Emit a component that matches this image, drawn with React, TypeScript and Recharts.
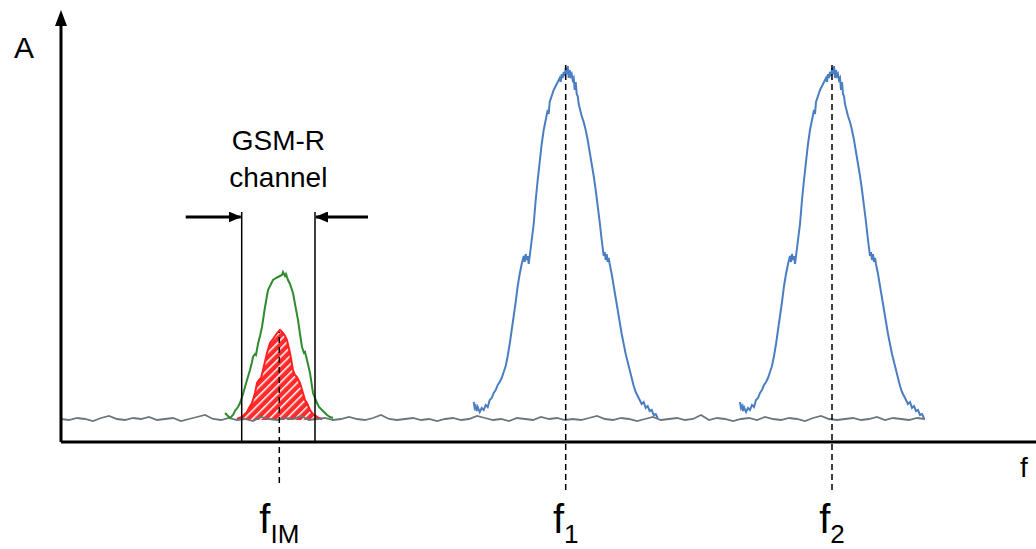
import { ComposedChart, Line, Area, XAxis, YAxis, ReferenceLine, ReferenceArea } from 'recharts'

// spectrum sketch: noise floor, two carriers f1/f2 and the IM product inside the GSM-R channel
const FONT = 'Liberation Sans, Arial, sans-serif'

const NOISE_STEP = 8
const NOISE_FLOOR = [
  23, 22, 24, 23, 21, 24, 26, 23, 22, 24,
  23, 25, 22, 23, 24, 21, 23, 25, 27, 23,
  22, 24, 22, 23, 21, 25, 23, 22, 24, 23,
  26, 22, 23, 24, 22, 23, 25, 23, 22, 24,
  27, 23, 22, 23, 24, 22, 23, 21, 23, 24,
  22, 23, 26, 24, 22, 23, 21, 24, 23, 22,
  25, 23, 24, 22, 23, 22, 24, 26, 23, 22,
  24, 23, 21, 23, 25, 22, 23, 24, 22, 23,
  27, 22, 24, 23, 21, 23, 24, 22, 25, 23,
  22, 24, 23, 21, 24, 26, 23, 22, 23, 24,
  22, 23, 25, 22, 24, 23, 22, 24, 23,
]

// carrier shape, [offset from centre, amplitude]
const CARRIER_PROFILE: [number, number][] = [
  [-92, 40], [-91, 34], [-90, 36], [-89, 31], [-88, 35], [-86, 30], [-84, 34], [-82, 32], [-80, 37], [-78, 35],
  [-76, 42], [-74, 44], [-72, 49], [-70, 52], [-68, 57], [-66, 60], [-64, 64], [-62, 70], [-60, 76], [-58, 86],
  [-56, 98], [-54, 112], [-52, 126], [-50, 140], [-48, 156], [-46, 168], [-44, 178], [-42, 186], [-41, 180], [-40, 188],
  [-39, 182], [-38, 186], [-37, 178], [-36, 186], [-34, 202], [-32, 218], [-30, 242], [-28, 262], [-26, 280], [-24, 298],
  [-22, 312], [-20, 322], [-18, 332], [-17, 328], [-16, 340], [-14, 346], [-12, 352], [-10, 356], [-8, 360], [-6, 364],
  [-5, 360], [-4, 368], [-3, 364], [-2, 370], [-1, 366], [0, 374], [1, 368], [2, 376], [3, 364], [4, 372],
  [5, 366], [6, 368], [7, 362], [8, 364], [9, 352], [10, 360], [11, 348], [12, 346], [13, 338], [14, 334],
  [16, 326], [18, 320], [20, 312], [22, 302], [24, 290], [26, 278], [28, 266], [30, 252], [32, 236], [34, 220],
  [36, 202], [37, 194], [38, 186], [39, 190], [40, 182], [41, 188], [42, 180], [43, 184], [44, 178], [46, 168],
  [48, 156], [50, 144], [52, 132], [54, 120], [56, 108], [58, 98], [60, 88], [62, 80], [64, 72], [66, 64],
  [68, 56], [70, 50], [72, 46], [74, 42], [76, 38], [78, 40], [80, 34], [82, 36], [84, 31], [86, 32],
  [88, 27], [90, 28], [92, 24],
]

const FREQ_TICKS = [218.3, 504.7, 771]
const FREQ_SUBS = ['IM', '1', '2']
const CARRIER_CENTERS = [504.7, 771]

const IM_TOTAL: [number, number][] = [
  [164, 29], [167, 26], [169, 24], [172, 27], [174, 31], [177, 35], [179, 39], [182, 48], [184, 55], [186, 62],
  [189, 72], [191, 80], [192, 85], [194, 88], [195, 87], [197, 98], [199, 106], [201, 115], [204, 135], [207, 152],
  [210, 158], [212, 162], [215, 164], [217, 165], [219, 166], [221, 167], [222, 170], [224, 166], [225, 168], [227, 162],
  [229, 158], [232, 149], [234, 138], [237, 122], [239, 108], [241, 95], [243, 89], [244, 90], [246, 82], [249, 69],
  [252, 49], [256, 39], [258, 35], [261, 32], [263, 30], [266, 27], [269, 25], [272, 24],
]

const IM_IN_CHANNEL: [number, number][] = [
  [176, 23], [178, 24], [181, 25], [183, 27], [186, 30], [188, 34], [191, 39], [194, 49], [196, 59], [198, 62],
  [200, 64], [202, 72], [206, 89], [209, 99], [212, 103], [214, 106], [217, 110], [219, 112], [221, 110], [222, 109],
  [224, 106], [226, 102], [229, 89], [232, 72], [234, 67], [236, 65], [239, 59], [242, 49], [244, 42], [246, 39],
  [249, 32], [252, 28], [255, 26], [258, 24], [261, 23],
]

const CHANNEL_EDGES = [180.7, 254]
const CHANNEL_TOP = 230
const ARROW_LEVEL = 225
const ARROW_LEN = 56

const noiseData = NOISE_FLOOR.map((a, i) => ({ f: i * NOISE_STEP, a }))
const carrierData = CARRIER_CENTERS.map((c) => CARRIER_PROFILE.map(([o, a]) => ({ f: c + o, a })))
const totalData = IM_TOTAL.map(([f, a]) => ({ f, a }))
const channelData = IM_IN_CHANNEL.map(([f, a]) => ({ f, a }))

function FreqTick(props: any) {
  const { x, y, payload } = props
  const idx = FREQ_TICKS.indexOf(payload.value)
  return (
    <text x={x} y={y + 91} textAnchor="middle" fontFamily={FONT} fontSize={40} fill="#000">
      f<tspan fontSize={26} dy={10}>{FREQ_SUBS[idx]}</tspan>
    </text>
  )
}

function arrowShape(props: any) {
  const { x1, y1, x2, y2 } = props
  return <line x1={x1} y1={y1} x2={x2} y2={y2} stroke="#000" strokeWidth={3} markerEnd="url(#headSmall)" />
}

export default function App() {
  return (
    <div style={{ position: 'absolute', left: 0, top: 0, width: 1036, height: 549, background: '#fff' }}>
      <svg width={0} height={0} style={{ position: 'absolute' }}>
        <defs>
          <marker id="headAxis" markerUnits="userSpaceOnUse" markerWidth={16} markerHeight={12} refX={2} refY={6} orient="auto-start-reverse">
            <path d="M0,0 L16,6 L0,12 z" fill="#000" />
          </marker>
          <marker id="headSmall" markerUnits="userSpaceOnUse" markerWidth={13} markerHeight={11} refX={12} refY={5.5} orient="auto">
            <path d="M0,0 L13,5.5 L0,11 z" fill="#000" />
          </marker>
          <pattern id="hatch" patternUnits="userSpaceOnUse" width={6} height={6} patternTransform="rotate(45)">
            <rect width={6} height={6} fill="#ff2a2a" />
            <line x1={0} y1={0} x2={0} y2={6} stroke="#fff" strokeWidth={3} />
          </pattern>
        </defs>
      </svg>
      <ComposedChart width={1036} height={549} margin={{ top: 24, right: 0, bottom: 77, left: 1 }}>
        <XAxis
          type="number"
          dataKey="f"
          domain={[0, 975]}
          ticks={FREQ_TICKS}
          tick={<FreqTick />}
          tickLine={false}
          tickSize={0}
          tickMargin={0}
          interval={0}
          height={30}
          axisLine={{ stroke: '#000', strokeWidth: 3 }}
          allowDataOverflow
          label={{
            content: (p: any) => (
              <text x={p.viewBox.x + p.viewBox.width - 12} y={p.viewBox.y + 35} textAnchor="middle" fontFamily={FONT} fontSize={28} fill="#000">
                f
              </text>
            ),
          }}
        />
        <YAxis
          type="number"
          dataKey="a"
          domain={[0, 418]}
          width={60}
          tick={false}
          tickLine={false}
          axisLine={{ stroke: '#000', strokeWidth: 3, markerStart: 'url(#headAxis)' }}
          allowDataOverflow
          label={{
            content: (p: any) => (
              <text x={p.viewBox.x + 23} y={p.viewBox.y + 34} textAnchor="middle" fontFamily={FONT} fontSize={30} fill="#000">
                A
              </text>
            ),
          }}
        />

        <Line data={noiseData} dataKey="a" type="linear" stroke="#6a767e" strokeWidth={1.8} dot={false} isAnimationActive={false} />
        {carrierData.map((d, i) => (
          <Line key={i} data={d} dataKey="a" type="linear" stroke="#4a7ec2" strokeWidth={2} dot={false} isAnimationActive={false} />
        ))}
        <Line data={totalData} dataKey="a" type="linear" stroke="#2e8b2e" strokeWidth={2} dot={false} isAnimationActive={false} />
        <Area data={channelData} dataKey="a" type="linear" baseValue={22} stroke="#ff2020" strokeWidth={2} fill="url(#hatch)" fillOpacity={1} isAnimationActive={false} />

        {CHANNEL_EDGES.map((x) => (
          <ReferenceLine key={x} segment={[{ x, y: 0 }, { x, y: CHANNEL_TOP }]} stroke="#000" strokeWidth={1.5} />
        ))}
        <ReferenceLine
          segment={[{ x: CHANNEL_EDGES[0] - ARROW_LEN, y: ARROW_LEVEL }, { x: CHANNEL_EDGES[0] - 1, y: ARROW_LEVEL }]}
          shape={arrowShape}
        />
        <ReferenceLine
          segment={[{ x: CHANNEL_EDGES[1] + ARROW_LEN - 3, y: ARROW_LEVEL }, { x: CHANNEL_EDGES[1] + 1, y: ARROW_LEVEL }]}
          shape={arrowShape}
        />
        <ReferenceArea
          x1={CHANNEL_EDGES[0]}
          x2={CHANNEL_EDGES[1]}
          y1={CHANNEL_TOP}
          y2={292}
          fill="none"
          stroke="none"
          label={{
            content: (p: any) => (
              <text x={p.viewBox.x + p.viewBox.width / 2} y={p.viewBox.y} textAnchor="middle" fontFamily={FONT} fontSize={28} fill="#000">
                <tspan x={p.viewBox.x + p.viewBox.width / 2}>GSM-R</tspan>
                <tspan x={p.viewBox.x + p.viewBox.width / 2} dy={37}>channel</tspan>
              </text>
            ),
          }}
        />

        <ReferenceLine segment={[{ x: FREQ_TICKS[0], y: -41 }, { x: FREQ_TICKS[0], y: 110 }]} ifOverflow="visible" stroke="#000" strokeWidth={1.5} strokeDasharray="6 4" />
        {CARRIER_CENTERS.map((x) => (
          <ReferenceLine key={x} segment={[{ x, y: -48 }, { x, y: 377 }]} ifOverflow="visible" stroke="#000" strokeWidth={1.5} strokeDasharray="6 4" />
        ))}
      </ComposedChart>
    </div>
  )
}
